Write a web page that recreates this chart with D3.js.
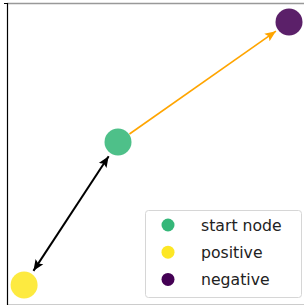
<!DOCTYPE html>
<html><head><meta charset="utf-8">
<script src="https://cdn.jsdelivr.net/npm/d3@7"></script>
<style>body{margin:0;background:#fff}svg{display:block}</style>
</head><body>
<script>
const nodeNames = ["positive", "start node", "negative"];
const nodeX = [0.057, 0.37, 0.94];
const nodeY = [0.063, 0.538, 0.937];
const nodeColors = ["#fde725", "#35b779", "#440154"];
const legendOrder = ["start node", "positive", "negative"];
const edges = [
  {from: "start node", to: "negative", color: "#ffa500", both: false},
  {from: "start node", to: "positive", color: "#000000", both: true}
];

const W = 304, H = 306;
const svg = d3.select("body").append("svg").attr("width", W).attr("height", H);
const x = d3.scaleLinear().domain([0, 1]).range([7, 307]);
const y = d3.scaleLinear().domain([0, 1]).range([304, 3]);

// frame
svg.append("line").attr("x1", 7).attr("x2", W).attr("y1", 3.5).attr("y2", 3.5).attr("stroke", "#999").attr("stroke-width", 1.5);
svg.append("line").attr("x1", 7).attr("x2", W).attr("y1", 304.5).attr("y2", 304.5).attr("stroke", "#ccc").attr("stroke-width", 1);
svg.append("line").attr("x1", 7.5).attr("x2", 7.5).attr("y1", 3).attr("y2", 305).attr("stroke", "#000").attr("stroke-width", 1.2);
svg.append("line").attr("x1", 4).attr("x2", 7.5).attr("y1", 3.5).attr("y2", 3.5).attr("stroke", "#000").attr("stroke-width", 1);

const defs = svg.append("defs");
function marker(id, color) {
  defs.append("marker").attr("id", id).attr("viewBox", "0 0 10 10")
    .attr("refX", 10).attr("refY", 5).attr("markerWidth", 11).attr("markerHeight", 11)
    .attr("markerUnits", "userSpaceOnUse").attr("orient", "auto-start-reverse")
    .append("path").attr("d", "M0,0.8 L10,5 L0,9.2 L2,5 Z").attr("fill", color);
}
marker("arrOrange", "#ffa500");
marker("arrBlack", "#000");

const pos = {};
nodeNames.forEach((n, i) => pos[n] = [x(nodeX[i]), y(nodeY[i])]);

edges.forEach(e => {
  const [x1, y1] = pos[e.from], [x2, y2] = pos[e.to];
  const dx = x2 - x1, dy = y2 - y1, L = Math.hypot(dx, dy);
  const s1 = e.both ? 17 : 14, s2 = e.both ? 17 : 16;
  const ln = svg.append("line")
    .attr("x1", x1 + dx / L * s1).attr("y1", y1 + dy / L * s1)
    .attr("x2", x2 - dx / L * s2).attr("y2", y2 - dy / L * s2)
    .attr("stroke", e.color).attr("stroke-width", e.both ? 2 : 1.6)
    .attr("marker-end", `url(#${e.both ? "arrBlack" : "arrOrange"})`);
  if (e.both) ln.attr("marker-start", "url(#arrBlack)");
});

svg.selectAll("circle.node").data(nodeNames).enter().append("circle")
  .attr("class", "node")
  .attr("cx", d => pos[d][0]).attr("cy", d => pos[d][1]).attr("r", 13.5)
  .attr("fill", (d, i) => nodeColors[i]).attr("fill-opacity", 0.88);

// legend
const lg = svg.append("g");
lg.append("rect").attr("x", 145.5).attr("y", 210.5).attr("width", 156).attr("height", 87).attr("rx", 3)
  .attr("fill", "#fff").attr("fill-opacity", 0.8).attr("stroke", "#d6d6d6").attr("stroke-width", 1);
legendOrder.forEach((n, i) => {
  const cy = 225 + i * 27.2;
  lg.append("circle").attr("cx", 168).attr("cy", cy).attr("r", 6.5).attr("fill", nodeColors[nodeNames.indexOf(n)]);
  lg.append("text").attr("x", 201).attr("y", cy + 5.5).text(n)
    .attr("font-family", "DejaVu Sans").attr("font-size", 15.7).attr("fill", "#222");
});
</script>
</body></html>
